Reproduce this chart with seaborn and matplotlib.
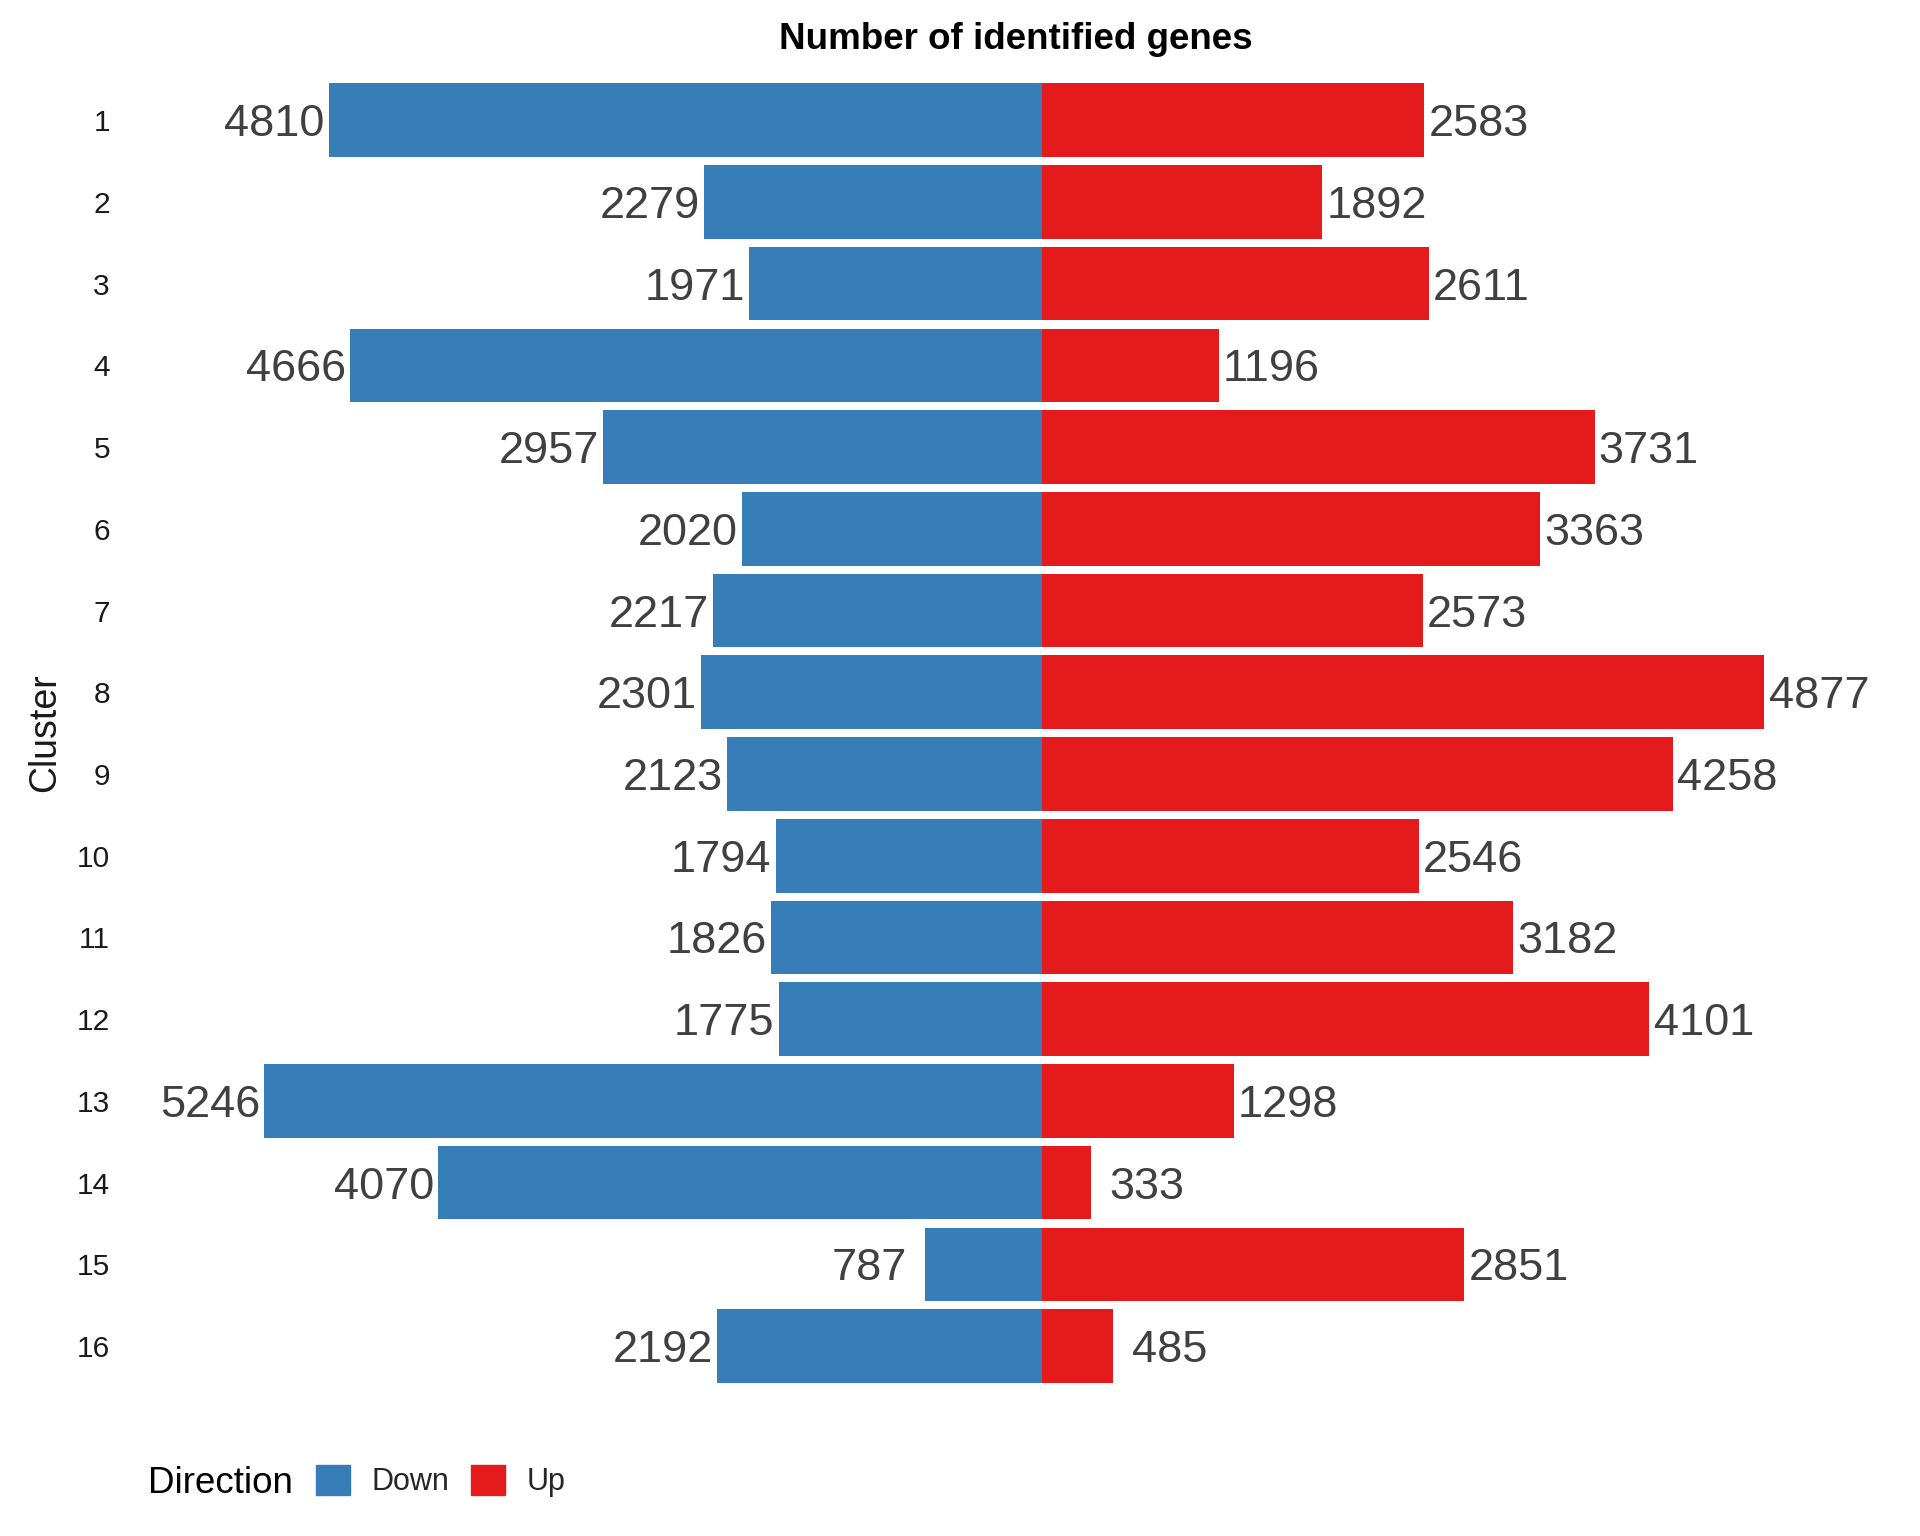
import pandas as pd
import seaborn as sns
import matplotlib.pyplot as plt

clusters = [str(i) for i in range(1, 17)]
down = [4810, 2279, 1971, 4666, 2957, 2020, 2217, 2301, 2123, 1794, 1826, 1775, 5246, 4070, 787, 2192]
up = [2583, 1892, 2611, 1196, 3731, 3363, 2573, 4877, 4258, 2546, 3182, 4101, 1298, 333, 2851, 485]
directions = ['Down', 'Up']
colors = {'Down': '#377EB8', 'Up': '#E41A1C'}

df = pd.DataFrame({
    'Cluster': clusters * 2,
    'Direction': ['Down'] * len(down) + ['Up'] * len(up),
    'Count': down + up,
})
df['Signed'] = df.apply(lambda r: -r['Count'] if r['Direction'] == 'Down' else r['Count'], axis=1)

sns.set_theme(style="white")
plt.rcParams['font.family'] = ['Liberation Sans', 'DejaVu Sans']

fig = plt.figure(figsize=(19.2, 15.36), dpi=100)
ax = fig.add_axes([0.0985, 0.0917, 0.8595, 0.862])

sns.barplot(data=df, x='Signed', y='Cluster', hue='Direction', hue_order=directions,
            order=clusters, palette=colors, dodge=False, width=0.9, orient='h',
            saturation=1, linewidth=0, legend=False, ax=ax)

# value labels
for cont, direction in zip(ax.containers, directions):
    for bar in cont:
        w = bar.get_width()
        yc = bar.get_y() + bar.get_height() / 2
        pad = 13 if abs(w) < 1000 else 3
        if direction == 'Down':
            ax.annotate(f"{int(round(-w))}", xy=(w, yc), xytext=(-pad, 0), textcoords='offset points',
                        ha='right', va='center_baseline', fontsize=32.5, color='#404040')
        else:
            ax.annotate(f"{int(round(w))}", xy=(w, yc), xytext=(pad, 0), textcoords='offset points',
                        ha='left', va='center_baseline', fontsize=32.5, color='#404040')

ax.set_xlim(-5752, 5383)
ax.set_ylim(15.6, -0.6)
for s in ax.spines.values():
    s.set_visible(False)
ax.set_xticks([])
ax.set_xlabel('')
ax.set_ylabel('')
ax.tick_params(axis='y', length=0, pad=57, labelsize=21.5, labelcolor='#1a1a1a')
ax.grid(False)

fig.text(0.529, 0.974, 'Number of identified genes', ha='center', va='center',
         fontsize=26.5, fontweight='bold', color='black')
fig.text(0.0234, 0.523, 'Cluster', ha='center', va='center', rotation=90,
         fontsize=27, color='#1a1a1a')

# legend
fig.text(148 / 1920, 0.034, 'Direction', ha='left', va='center', fontsize=26.5, color='black')
handles = [plt.Rectangle((0, 0), 1, 1, color=colors[d]) for d in directions]
fig.legend(handles, directions, loc='center left', bbox_to_anchor=(316 / 1920, 0.0355),
           ncol=2, frameon=False, fontsize=22, handlelength=1.1, handleheight=1.1,
           handletextpad=0.72, columnspacing=0.72, borderpad=0, borderaxespad=0)

plt.savefig('out.png', dpi=100)
